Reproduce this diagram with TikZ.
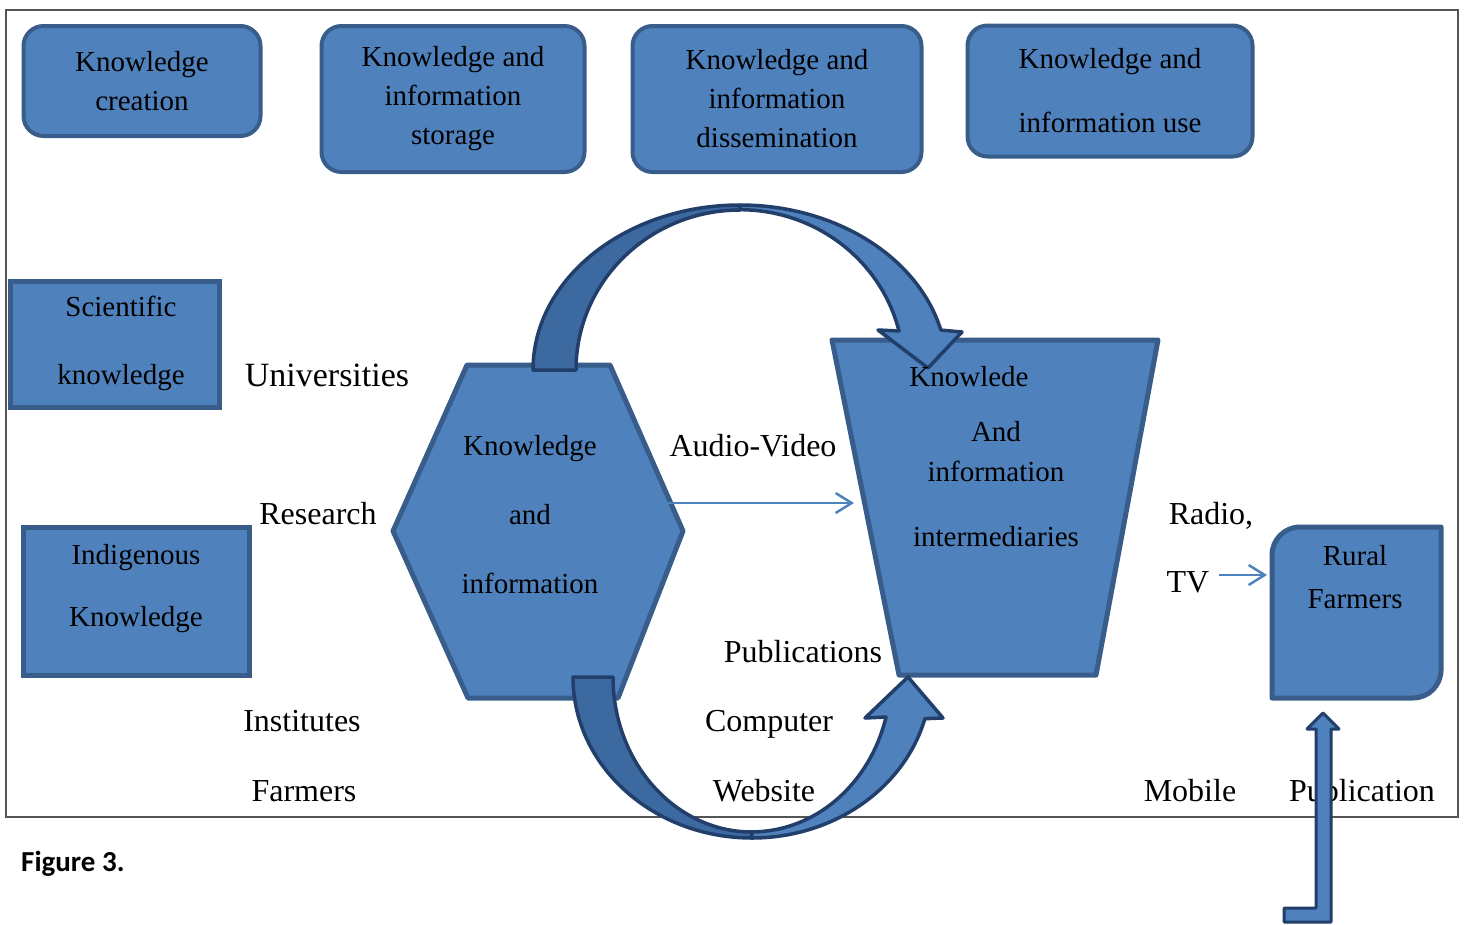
\documentclass[tikz,border=0pt]{standalone}
\usepackage{fontspec}
\setmainfont{Liberation Serif}
\newfontfamily\captionfont{Carlito}
\usepackage{tikz}
\usetikzlibrary{arrows.meta}

\definecolor{boxblue}{HTML}{4F81BD}
\definecolor{boxedge}{HTML}{385D8A}
\definecolor{arcdark}{HTML}{3D69A1}
\definecolor{arcedge}{HTML}{213F6A}
\definecolor{framegray}{HTML}{555555}

\begin{document}
\begin{tikzpicture}[
    x=1pt, y=-1pt,
    stagebox/.style={rectangle, rounded corners=20pt, draw=boxedge, fill=boxblue, line width=4pt, align=center, font=\fontsize{29}{39}\selectfont},
    sourcebox/.style={rectangle, draw=boxedge, fill=boxblue, line width=5pt, align=center, font=\fontsize{29}{39}\selectfont},
    shapefill/.style={draw=boxedge, fill=boxblue, line width=5pt, line join=round},
    shapetext/.style={align=center, font=\fontsize{29}{39}\selectfont},
    medialabel/.style={anchor=base, inner sep=0pt, font=\fontsize{32}{38}\selectfont},
    bigarrow/.style={draw=arcedge, line width=3.5pt, line join=round},
    thinarrow/.style={-{Straight Barb[length=16pt, width=20pt]}, line width=2.5pt, draw=boxblue}
]
\useasboundingbox (0,0) rectangle (1466,924);

% outer frame
\draw[framegray, line width=1.5pt] (6,10) rectangle (1458,817);

% stages along the top
\node[stagebox, minimum width=237, minimum height=110] (kcreate) at (142,81) {Knowledge\\creation};
\node[stagebox, minimum width=263, minimum height=146] (kstore) at (453,99) {Knowledge and\\information\\storage};
\node[stagebox, minimum width=289, minimum height=146] (kdissem) at (777,99) {Knowledge and\\information\\dissemination};
\node[stagebox, minimum width=285, minimum height=131] (kuse) at (1110,91) {Knowledge and\\[25pt]information use};

% knowledge sources
\node[sourcebox, minimum width=209, minimum height=126] (scient) at (115,344) {};
\node[shapetext] (scientlbl) at (121,343) {Scientific\\[29pt]knowledge};
\node[sourcebox, minimum width=226, minimum height=148] (indig) at (136,601) {};
\node[shapetext] (indiglbl) at (136,589) {Indigenous\\[23pt]Knowledge};

% hexagon, trapezoid and farmers box
\draw[shapefill] (467,365) -- (610,365) -- (683,531) -- (618,698) -- (468,698) -- (393,531) -- cycle;
\draw[shapefill] (832,340) -- (1158,340) -- (1096,675) -- (899,675) -- cycle;
\draw[shapefill] (1272,698) -- (1272,555) arc[start angle=180, end angle=270, radius=28]
    -- (1441,527) -- (1441,670) arc[start angle=0, end angle=90, radius=28] -- cycle;

% channel labels
\node[medialabel, font=\fontsize{34}{40}\selectfont] (univ) at (327,386) {Universities};
\node[medialabel] (research) at (318,524) {Research};
\node[medialabel] (inst) at (302,731) {Institutes};
\node[medialabel] (farm) at (304,801) {Farmers};
\node[medialabel] (audio) at (753,456) {Audio-Video};
\node[medialabel] (pubs) at (803,662) {Publications};
\node[medialabel] (comp) at (769,731) {Computer};
\node[medialabel] (web) at (764,801) {Website};
\node[medialabel] (radio) at (1211,524) {Radio,};
\node[medialabel] (tv) at (1188,592) {TV};
\node[medialabel] (mobile) at (1190,801) {Mobile};
\node[medialabel] (pub) at (1362,801) {Publication};

% curved arrow over the top
\draw[bigarrow, fill=arcdark] (533,370) arc[start angle=180, end angle=270, x radius=207, y radius=165]
    -- (740,210) arc[start angle=270, end angle=180, x radius=164, y radius=160] -- cycle;
\draw[bigarrow, fill=boxblue] (740,205) arc[start angle=270, end angle=346, x radius=207, y radius=165]
    -- (962,332) -- (928,368) -- (878,330) -- (899,331)
    arc[start angle=346, end angle=270, x radius=164, y radius=160] -- cycle;

% curved arrow underneath
\draw[bigarrow, fill=arcdark] (573,677) arc[start angle=180, end angle=90, x radius=179, y radius=161]
    -- (752,832) arc[start angle=90, end angle=180, x radius=139, y radius=155] -- cycle;
\draw[bigarrow, fill=boxblue] (752,838) arc[start angle=90, end angle=15, x radius=179, y radius=161]
    -- (943,718) -- (908,677) -- (865,718) -- (886,717)
    arc[start angle=15, end angle=90, x radius=139, y radius=155] -- cycle;

% texts inside the shapes
\node[shapetext] (kinfo) at (530,515) {Knowledge\\[30pt]and\\[30pt]information};
\node[shapetext] (kmid) at (996,457) {Knowlede\hspace*{54pt}\\[16pt]And\\[1pt]information\\[26pt]intermediaries};
\node[shapetext] (rural) at (1355,577) {Rural\\[4pt]Farmers};

% thin arrows
\coordinate (avstart) at (643,503);
\coordinate (avend) at (854,503);
\coordinate (tvstart) at (1219,575);
\coordinate (rfwest) at (1267,575);
\draw[thinarrow] (avstart) -- (avend);
\draw[thinarrow] (tvstart) -- (rfwest);

% bent arrow into the farmers box
\draw[bigarrow, line width=3pt, fill=boxblue] (1323,713) -- (1339,729) -- (1331,729) -- (1331,922)
    -- (1284,922) -- (1284,908) -- (1316,908) -- (1316,729) -- (1307,729) -- cycle;

\node[anchor=base west, inner sep=0pt, font=\captionfont\bfseries\fontsize{29}{34}\selectfont] (figcap) at (21,871) {Figure 3.};
\end{tikzpicture}
\end{document}
